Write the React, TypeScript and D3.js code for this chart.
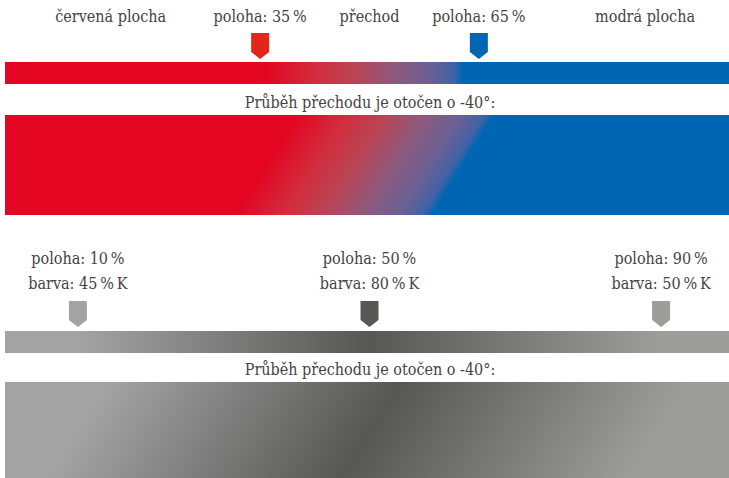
import React from 'react';
import * as d3 from 'd3';

const W = 729;
const H = 478;

// marker stops: position (%) along the bar
const colorStops = [
  { pos: 35, marker: '#e3261a', label: 'poloha: 35\u2009%' },
  { pos: 65, marker: '#0066b3', label: 'poloha: 65\u2009%' },
];
// transition colours (print-style interpolation red -> blue)
const transOffsets = [35.7, 42.5, 48.0, 53.5, 58.3, 61.5, 62.8];
const transColors = ['#e30521', '#d22d3d', '#b84555', '#8c5a7e', '#6a6094', '#4063a6', '#0066b3'];
const areaLabels = [
  { pos: 14.5, text: 'červená plocha' },
  { pos: 50, text: 'přechod' },
  { pos: 87.8, text: 'modrá plocha' },
];
const grayStops = [
  { pos: 10, k: 45, color: '#a3a3a3' },
  { pos: 50, k: 80, color: '#575756' },
  { pos: 90, k: 50, color: '#9d9d9c' },
];
const rotatedCaption = 'Průběh přechodu je otočen o -40°:';
const FONT = "'DejaVu Serif Condensed', 'DejaVu Serif', serif";
const TEXT = '#444443';

const x = d3.scaleLinear().domain([0, 100]).range([5, 734]);

function markerPath(cx: number, top: number, tip: number) {
  const hw = 9;
  const p = d3.path();
  p.moveTo(cx - hw, top);
  p.lineTo(cx + hw, top);
  p.lineTo(cx + hw, tip - 7);
  p.lineTo(cx, tip);
  p.lineTo(cx - hw, tip - 7);
  p.closePath();
  return p.toString();
}

function rotatedVector(cy: number) {
  const theta = (32 * Math.PI) / 180;
  const L = (x(100) - x(0)) * Math.cos(theta);
  const cx = (x(0) + x(100)) / 2;
  const dx = (L / 2) * Math.cos(theta);
  const dy = (L / 2) * Math.sin(theta);
  return { x1: cx - dx, y1: cy - dy, x2: cx + dx, y2: cy + dy };
}

export default function App() {
  const bar1 = { y: 62, h: 22 };
  const bar2 = { y: 115, h: 100 };
  const bar3 = { y: 331, h: 22 };
  const bar4 = { y: 382, h: 100 };
  const v2 = rotatedVector(bar2.y + bar2.h / 2);
  const v4 = rotatedVector(bar4.y + bar4.h / 2);
  const colorStopEls = transOffsets.map((o, i) => (
    <stop key={i} offset={`${o}%`} stopColor={transColors[i]} />
  ));
  const grayStopEls = grayStops.map((s, i) => (
    <stop key={i} offset={`${s.pos}%`} stopColor={s.color} />
  ));
  return (
    <svg width={W} height={H} style={{ position: 'absolute', left: 0, top: 0 }}>
      <defs>
        <linearGradient id="g1" gradientUnits="userSpaceOnUse" x1={x(0)} y1={0} x2={x(100)} y2={0}>
          {colorStopEls}
        </linearGradient>
        <linearGradient id="g2" gradientUnits="userSpaceOnUse" {...v2}>
          {colorStopEls}
        </linearGradient>
        <linearGradient id="g3" gradientUnits="userSpaceOnUse" x1={x(0)} y1={0} x2={x(100)} y2={0}>
          {grayStopEls}
        </linearGradient>
        <linearGradient id="g4" gradientUnits="userSpaceOnUse" {...v4}>
          {grayStopEls}
        </linearGradient>
      </defs>
      <rect width={W} height={H} fill="#fff" />
      <g fontFamily={FONT} fontSize={16} fill={TEXT} textAnchor="middle">
        {areaLabels.map((l, i) => (
          <text key={i} x={x(l.pos)} y={22}>{l.text}</text>
        ))}
        {colorStops.map((s, i) => (
          <text key={i} x={x(s.pos)} y={22}>{s.label}</text>
        ))}
        <text x={370} y={108}>{rotatedCaption}</text>
        <text x={370} y={375}>{rotatedCaption}</text>
        {grayStops.map((s, i) => (
          <g key={i}>
            <text x={x(s.pos)} y={264}>{`poloha: ${s.pos}\u2009%`}</text>
            <text x={x(s.pos)} y={289}>{`barva: ${s.k}\u2009%\u2009K`}</text>
          </g>
        ))}
      </g>
      {colorStops.map((s, i) => (
        <path key={i} d={markerPath(x(s.pos), 33, 59)} fill={s.marker} />
      ))}
      {grayStops.map((s, i) => (
        <path key={i} d={markerPath(x(s.pos), 301, 327)} fill={s.color} />
      ))}
      <rect x={x(0)} y={bar1.y} width={x(100) - x(0)} height={bar1.h} fill="url(#g1)" />
      <rect x={x(0)} y={bar2.y} width={x(100) - x(0)} height={bar2.h} fill="url(#g2)" />
      <rect x={x(0)} y={bar3.y} width={x(100) - x(0)} height={bar3.h} fill="url(#g3)" />
      <rect x={x(0)} y={bar4.y} width={x(100) - x(0)} height={bar4.h} fill="url(#g4)" />
    </svg>
  );
}
